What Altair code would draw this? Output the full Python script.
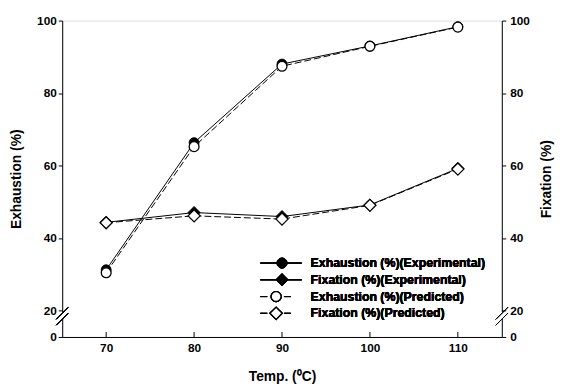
import altair as alt
import pandas as pd

# ---- data ----
temps = [70, 80, 90, 100, 110]
exh_exp = [31.2, 66.3, 88.0, 93.0, 98.3]
exh_pred = [30.4, 65.2, 87.4, 92.9, 98.2]
fix_exp = [44.3, 47.0, 45.9, 49.1, 59.2]
fix_pred = [44.2, 46.1, 45.2, 49.0, 59.0]

x_ticks = [70, 80, 90, 100, 110]
y_ticks = [0, 20, 40, 60, 80, 100]
legend_labels = [
    "Exhaustion (%)(Experimental)",
    "Fixation (%)(Experimental)",
    "Exhaustion (%)(Predicted)",
    "Fixation (%)(Predicted)",
]

W, H = 446, 321
FONT = "Liberation Sans"

rows = []
for i, t in enumerate(temps):
    rows.append(dict(temp=t, value=exh_exp[i], measure="Exhaustion", kind="Experimental"))
    rows.append(dict(temp=t, value=exh_pred[i], measure="Exhaustion", kind="Predicted"))
    rows.append(dict(temp=t, value=fix_exp[i], measure="Fixation", kind="Experimental"))
    rows.append(dict(temp=t, value=fix_pred[i], measure="Fixation", kind="Predicted"))
df = pd.DataFrame(rows)

xscale = alt.Scale(domain=[65, 115], nice=False, zero=False)
yscale = alt.Scale(domain=[0, 20, 100], range=[H, H - 27, 0], nice=False, zero=False)

x_axis = alt.Axis(
    values=x_ticks, title="Temp. (\u2070C)", grid=False, tickSize=0, labelPadding=6,
    labelFontSize=12, labelFontWeight="bold", labelColor="black", labelFont=FONT,
    titleFontSize=14, titleFontWeight="bold", titleColor="black", titleFont=FONT,
    titlePadding=16, domainColor="black", domainWidth=1,
)


def y_axis(orient, title, pad, lpad):
    return alt.Axis(
        orient=orient, values=y_ticks, title=title, grid=False, tickSize=4,
        tickColor="black", tickWidth=1, labelPadding=lpad,
        labelFontSize=12, labelFontWeight="bold", labelColor="black", labelFont=FONT,
        titleFontSize=14, titleFontWeight="bold", titleColor="black", titleFont=FONT,
        titlePadding=pad, titleAngle=270, domainColor="black", domainWidth=1,
    )


def group(measure, shape, axis):
    base = alt.Chart(df).transform_filter(alt.datum.measure == measure)
    enc = dict(
        x=alt.X("temp:Q", scale=xscale, axis=x_axis),
        y=alt.Y("value:Q", scale=yscale, axis=axis),
    )
    exp = base.transform_filter(alt.datum.kind == "Experimental")
    pred = base.transform_filter(alt.datum.kind == "Predicted")
    l1 = exp.mark_line(color="black", strokeWidth=1).encode(**enc)
    l2 = pred.mark_line(color="black", strokeWidth=1, strokeDash=[7, 3]).encode(**enc)
    size = 100 if shape == "circle" else 150
    p1 = exp.mark_point(shape=shape, filled=True, fill="black", stroke="black",
                        strokeWidth=1, size=size, opacity=1).encode(**enc)
    p2 = pred.mark_point(shape=shape, filled=True, fill="white", stroke="black",
                         strokeWidth=1.3, size=size, opacity=1).encode(**enc)
    return alt.layer(l1, l2, p1, p2)


exh = group("Exhaustion", "circle", y_axis("left", "Exhaustion (%)", 13, 2))
fix = group("Fixation", "diamond", y_axis("right", "Fixation (%)", 24, 4))

# inward x ticks
tick_df = pd.DataFrame({"temp": x_ticks})
xticks = alt.Chart(tick_df).mark_rule(color="black", strokeWidth=1).encode(
    x=alt.X("temp:Q", scale=xscale, axis=x_axis),
    y=alt.value(H), y2=alt.value(H - 5),
)

# axis breaks
breaks = []
for ax in (0, W):
    breaks.append(alt.Chart(tick_df).mark_rule(color="white", strokeWidth=4).encode(
        x=alt.value(ax), y=alt.value(296), y2=alt.value(302)))
    for dy in (0, 6):
        breaks.append(alt.Chart(tick_df).mark_rule(color="black", strokeWidth=1).encode(
            x=alt.value(ax - 6), x2=alt.value(ax + 6),
            y=alt.value(303 + dy), y2=alt.value(291 + dy)))

# legend
leg = []
leg_y = [246, 263, 280, 297]
shapes = ["circle", "diamond", "circle", "diamond"]
for i, lab in enumerate(legend_labels):
    yy = leg_y[i]
    predicted = i >= 2
    sz = 100 if shapes[i] == "circle" else 150
    if not predicted:
        leg.append(alt.Chart(tick_df).mark_rule(color="black", strokeWidth=1).encode(
            x=alt.value(201), x2=alt.value(243), y=alt.value(yy)))
        mx = 223
    else:
        leg.append(alt.Chart(tick_df).mark_rule(color="black", strokeWidth=1).encode(
            x=alt.value(201), x2=alt.value(208), y=alt.value(yy)))
        leg.append(alt.Chart(tick_df).mark_rule(color="black", strokeWidth=1).encode(
            x=alt.value(225), x2=alt.value(232), y=alt.value(yy)))
        mx = 217
    leg.append(alt.Chart(tick_df).mark_point(
        shape=shapes[i], filled=True, fill="white" if predicted else "black",
        stroke="black", strokeWidth=1.3 if predicted else 1, size=sz, opacity=1
    ).encode(x=alt.value(mx), y=alt.value(yy)))
    leg.append(alt.Chart(tick_df).mark_text(
        text=lab, align="left", baseline="middle", font=FONT, fontSize=12.5,
        fontWeight="bold", color="black"
    ).encode(x=alt.value(252), y=alt.value(yy)))

main = alt.layer(exh, fix).resolve_scale(y="independent")

chart = alt.layer(main, xticks, *breaks, *leg).properties(
    width=W, height=H,
    autosize=alt.AutoSizeParams(type="none"),
    padding={"left": 55, "top": 10, "right": 56, "bottom": 50},
).configure_view(stroke="transparent").configure(background="white")

chart.save("out.html", embed_options={"renderer": "svg", "actions": False})
